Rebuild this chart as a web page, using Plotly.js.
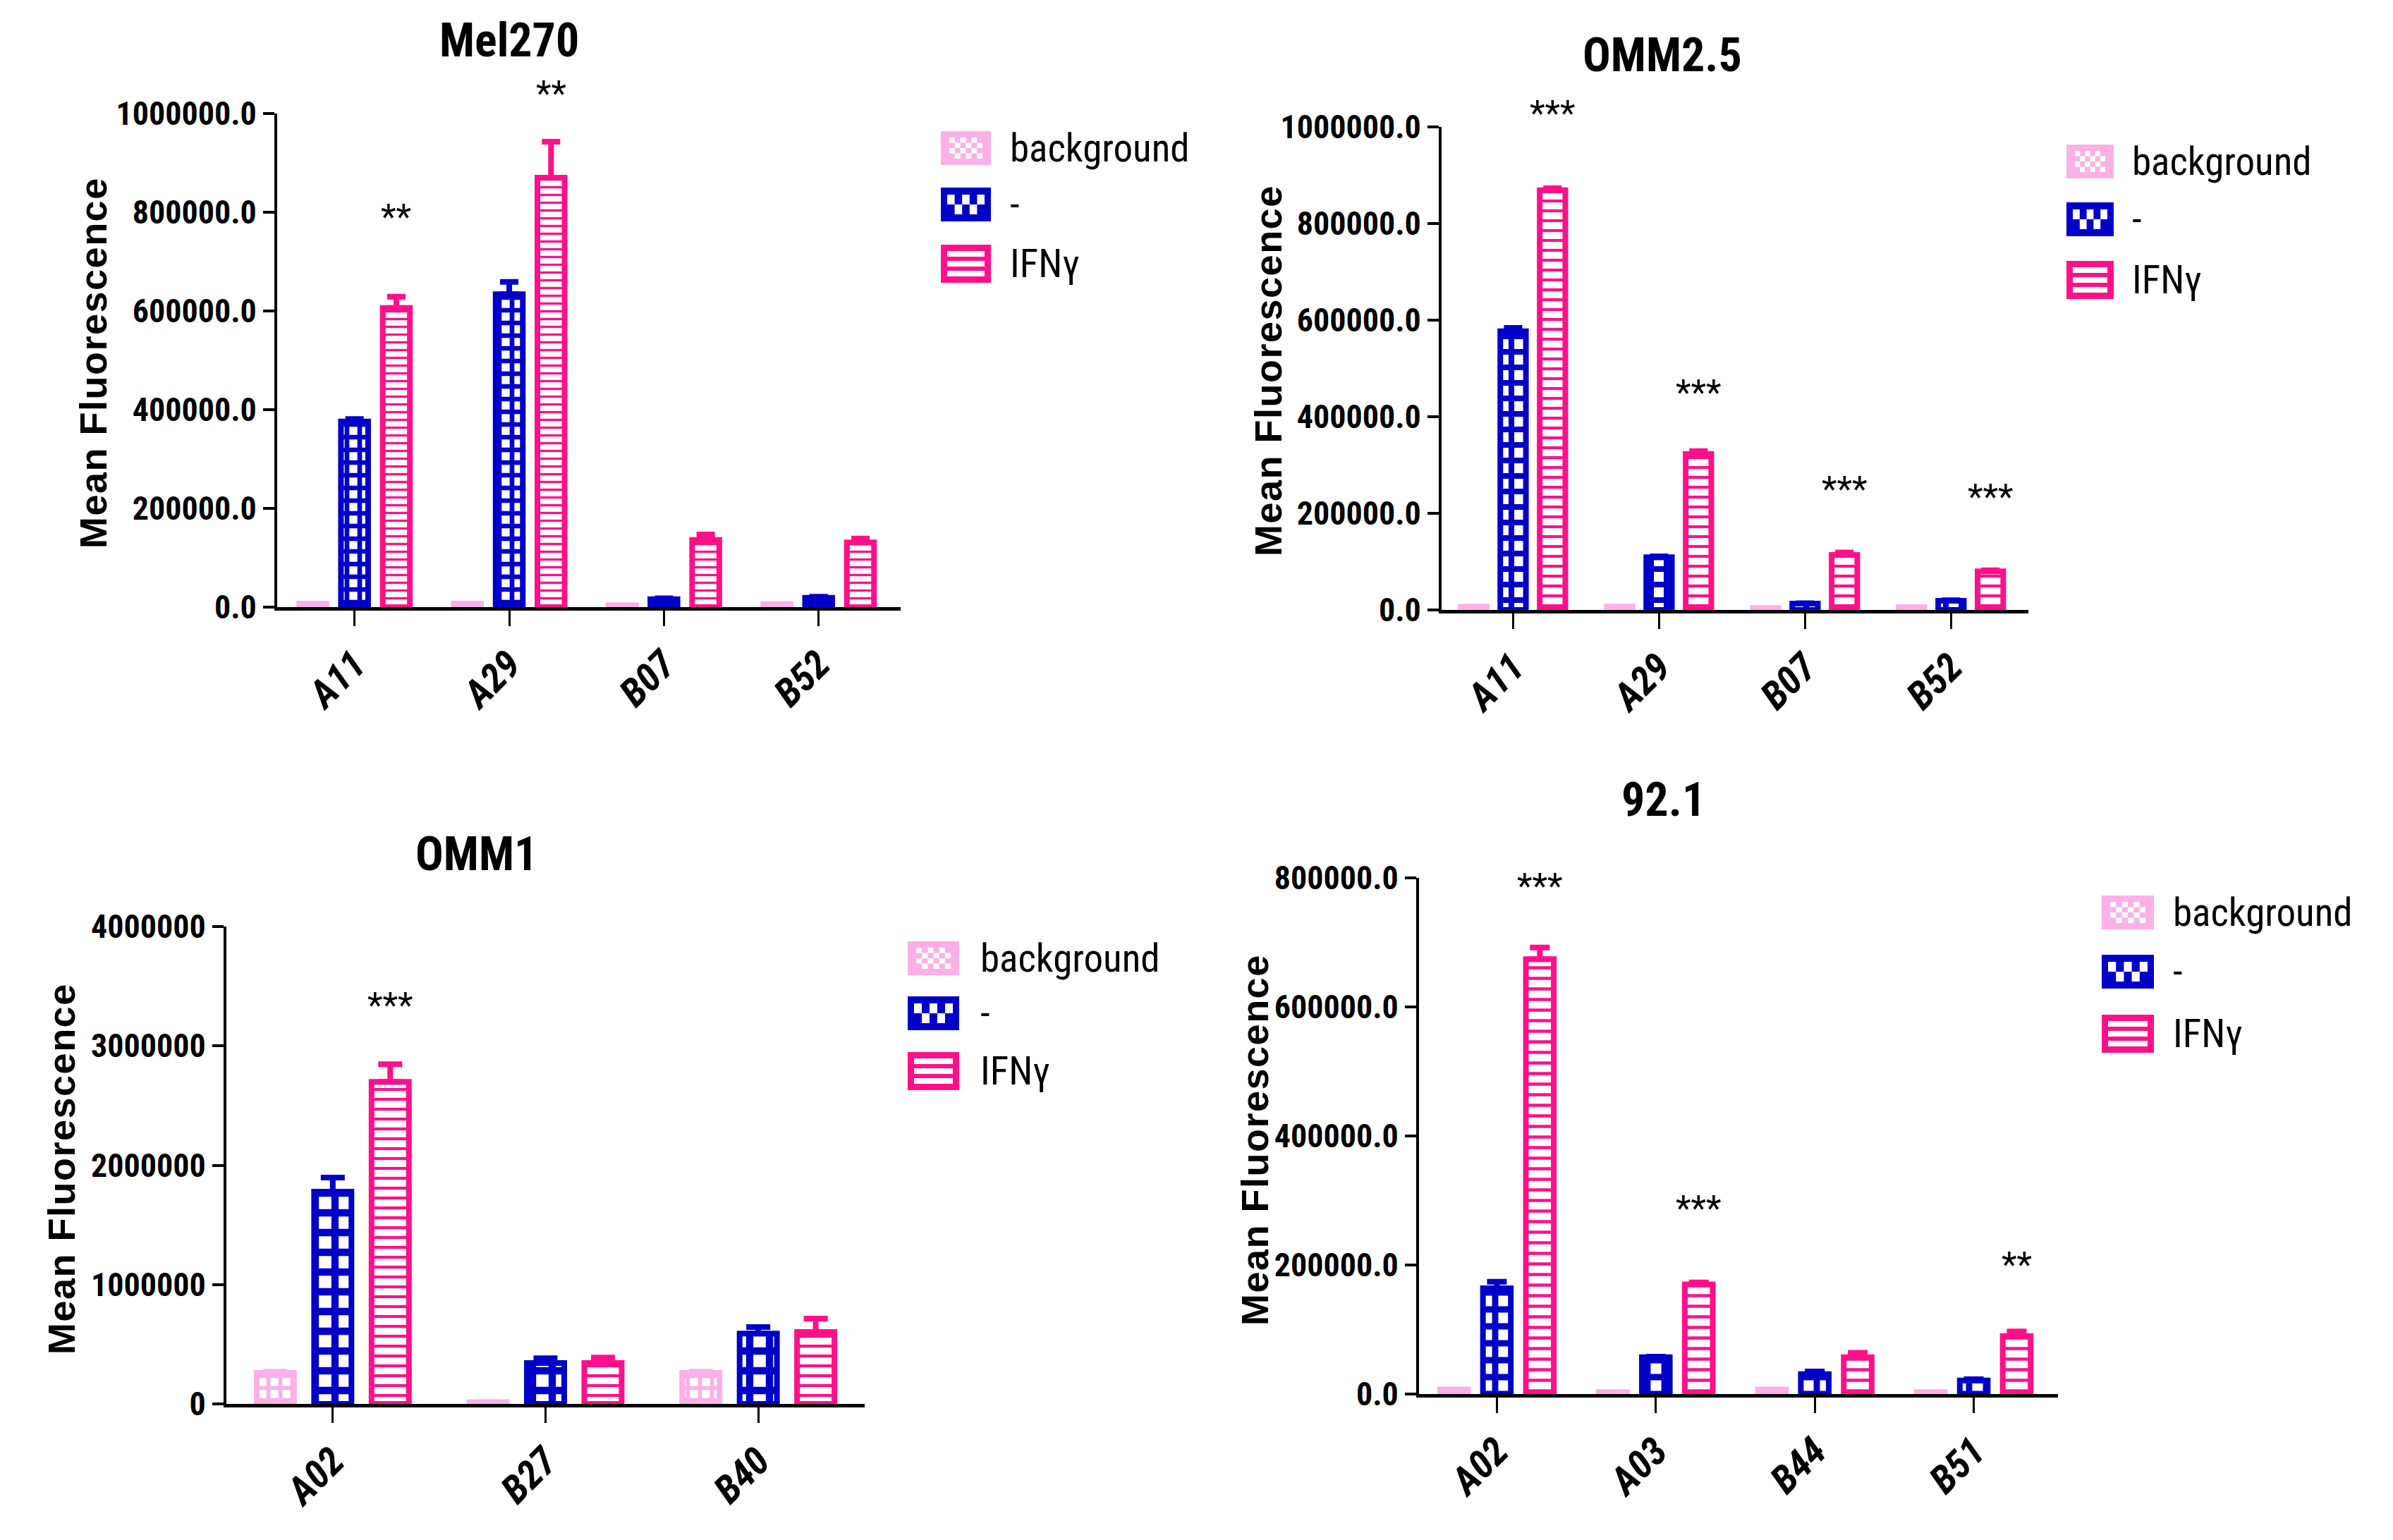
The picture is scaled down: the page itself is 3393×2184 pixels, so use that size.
<!DOCTYPE html>
<html><head><meta charset="utf-8">
<script src="https://cdn.plot.ly/plotly-3.0.1.min.js"></script>
<style>html,body{margin:0;padding:0;background:#fff}#chart{width:3393px;height:2184px}</style>
</head><body><div id="chart"></div>
<script>
// ---------------- data ----------------
const seriesNames = ['background', '-', 'IFNγ'];

const mel270Cats = ['A11', 'A29', 'B07', 'B52'];
const mel270Background = [7000, 7000, 4000, 6000];
const mel270Control = [376000, 634000, 16000, 19000];
const mel270ControlErr = [5000, 25000, 2000, 2000];
const mel270Ifn = [606000, 870000, 136000, 131000];
const mel270IfnErr = [23000, 73000, 11000, 8000];
const mel270Stars = ['**', '**', '', ''];
const mel270StarY = [790000, 1040000, 0, 0];

const omm25Cats = ['A11', 'A29', 'B07', 'B52'];
const omm25Background = [7000, 7000, 4000, 6000];
const omm25Control = [577000, 109000, 13000, 19000];
const omm25ControlErr = [7000, 2000, 1000, 1000];
const omm25Ifn = [869000, 323000, 114000, 80000];
const omm25IfnErr = [4000, 6000, 5000, 2000];
const omm25Stars = ['***', '***', '***', '***'];
const omm25StarY = [1028000, 450000, 250000, 234000];

const omm1Cats = ['A02', 'B27', 'B40'];
const omm1Background = [260000, 15000, 260000];
const omm1BackgroundErr = [10000, 0, 10000];
const omm1Control = [1778000, 343000, 590000];
const omm1ControlErr = [118000, 40000, 54000];
const omm1Ifn = [2699000, 343000, 602000];
const omm1IfnErr = [148000, 45000, 113000];
const omm1Stars = ['***', '', ''];
const omm1StarY = [3337000, 0, 0];

const c921Cats = ['A02', 'A03', 'B44', 'B51'];
const c921Background = [7000, 3000, 7000, 3000];
const c921Control = [164000, 57000, 31000, 21000];
const c921ControlErr = [10000, 1000, 4000, 2000];
const c921Ifn = [674000, 170000, 57000, 90000];
const c921IfnErr = [18000, 3000, 7000, 7000];
const c921Stars = ['***', '***', '', '**'];
const c921StarY = [787000, 287000, 0, 200000];

// ---------------- styling ----------------
const W = 3393, H = 2184;
const fx = p => p / W;
const fy = p => 1 - p / H;
const NARROW = '"Roboto Condensed", "Open Sans Condensed", "DejaVu Sans Condensed", sans-serif';
const ARIAL = '"Liberation Sans", Arial, sans-serif';
const BLUE = '#0000C8';
const PINK = '#FF1089';
const LIGHT = '#FBB1E7';

const panels = [
  {title: 'Mel270', cats: mel270Cats, bg: mel270Background, bgErr: null, ctrl: mel270Control, ctrlErr: mel270ControlErr,
   ifn: mel270Ifn, ifnErr: mel270IfnErr, stars: mel270Stars, starY: mel270StarY,
   xd: [393, 1277], yd: [161, 861], xr: [-0.5, 3.53], yr: [0, 1000000], dtick: 200000, fmt: '.1f',
   titlePos: [722, 57], ytPos: [132, 515], lgX: [1334, 1405], lgY: [210, 290, 374], lblX: 1430,
   stripe: 11, check: 18, cap: 13},
  {title: 'OMM2.5', cats: omm25Cats, bg: omm25Background, bgErr: null, ctrl: omm25Control, ctrlErr: omm25ControlErr,
   ifn: omm25Ifn, ifnErr: omm25IfnErr, stars: omm25Stars, starY: omm25StarY,
   xd: [2044, 2876], yd: [180, 865], xr: [-0.49, 3.53], yr: [0, 1000000], dtick: 200000, fmt: '.1f',
   titlePos: [2357, 79], ytPos: [1798, 526], lgX: [2930, 2997], lgY: [229, 311, 397], lblX: 3021,
   stripe: 14, check: 22, cap: 13},
  {title: 'OMM1', cats: omm1Cats, bg: omm1Background, bgErr: omm1BackgroundErr, ctrl: omm1Control, ctrlErr: omm1ControlErr,
   ifn: omm1Ifn, ifnErr: omm1IfnErr, stars: omm1Stars, starY: omm1StarY,
   xd: [321, 1226], yd: [1314, 1991], xr: [-0.5, 2.5], yr: [0, 4000000], dtick: 1000000, fmt: 'd',
   titlePos: [675, 1211], ytPos: [87, 1658], lgX: [1287, 1360], lgY: [1359, 1437, 1519], lblX: 1388,
   stripe: 14, check: 28, cap: 17},
  {title: '92.1', cats: c921Cats, bg: c921Background, bgErr: null, ctrl: c921Control, ctrlErr: c921ControlErr,
   ifn: c921Ifn, ifnErr: c921IfnErr, stars: c921Stars, starY: c921StarY,
   xd: [2012, 2918], yd: [1245, 1977], xr: [-0.49, 3.53], yr: [0, 800000], dtick: 200000, fmt: '.1f',
   titlePos: [2358, 1134], ytPos: [1779, 1617], lgX: [2980, 3054], lgY: [1294, 1378, 1466], lblX: 3079,
   stripe: 15, check: 24, cap: 14}
];

const traces = [];
const annotations = [];
const shapes = [];
const layout = {
  width: W, height: H, margin: {l: 0, r: 0, t: 0, b: 0},
  paper_bgcolor: '#fff', plot_bgcolor: 'rgba(0,0,0,0)',
  showlegend: false, barmode: 'group', bargap: 0.19, bargroupgap: 0.35,
  font: {family: NARROW, color: '#000'}
};

function errObj(arr, color, cap) {
  if (!arr) return {visible: false};
  return {type: 'data', symmetric: false, array: arr, arrayminus: arr.map(() => 0),
          color: color, thickness: 8, width: cap};
}

function rect(x0, y0, x1, y1, fill, lineColor, lw) {
  shapes.push({type: 'rect', xref: 'paper', yref: 'paper', x0: fx(x0), x1: fx(x1), y0: fy(y1), y1: fy(y0),
               fillcolor: fill, line: {color: lineColor || fill, width: lw || 0}, layer: 'above'});
}

panels.forEach((p, i) => {
  const n = i === 0 ? '' : String(i + 1);
  const xa = 'x' + n, ya = 'y' + n;
  layout['xaxis' + n] = {
    domain: [fx(p.xd[0]), fx(p.xd[1])], anchor: ya, type: 'category', range: p.xr,
    showline: true, linewidth: 5, linecolor: '#000', ticks: 'outside', ticklen: 22, tickwidth: 3, tickcolor: '#000',
    tickangle: -45, showgrid: false, zeroline: false,
    tickfont: {family: NARROW, size: 55, weight: 'bold', style: 'italic', color: '#000'}
  };
  layout['yaxis' + n] = {
    domain: [fy(p.yd[1]), fy(p.yd[0])], anchor: xa, range: p.yr, tick0: 0, dtick: p.dtick, tickformat: p.fmt,
    showline: true, linewidth: 4, linecolor: '#000', ticks: 'outside', ticklen: 16, tickwidth: 4, tickcolor: '#000',
    showgrid: false, zeroline: false,
    tickfont: {family: NARROW, size: 46, weight: 'bold', color: '#000'}
  };

  traces.push({
    type: 'bar', name: seriesNames[0], x: p.cats, y: p.bg, xaxis: xa, yaxis: ya,
    marker: {color: LIGHT, line: {color: LIGHT, width: 8},
             pattern: {shape: '+', fgcolor: LIGHT, bgcolor: '#fff', size: Math.round(p.check * 0.6), solidity: 0.55}},
    error_y: errObj(p.bgErr, LIGHT, p.cap)
  });
  traces.push({
    type: 'bar', name: seriesNames[1], x: p.cats, y: p.ctrl, xaxis: xa, yaxis: ya,
    marker: {color: BLUE, line: {color: BLUE, width: 8},
             pattern: {shape: '+', fgcolor: BLUE, bgcolor: '#fff', size: p.check, solidity: 0.6}},
    error_y: errObj(p.ctrlErr, BLUE, p.cap)
  });
  traces.push({
    type: 'bar', name: seriesNames[2], x: p.cats, y: p.ifn, xaxis: xa, yaxis: ya,
    marker: {color: PINK, line: {color: PINK, width: 8},
             pattern: {shape: '-', fgcolor: PINK, bgcolor: '#fff', size: p.stripe, solidity: 0.3}},
    error_y: errObj(p.ifnErr, PINK, p.cap)
  });

  // significance stars above the IFNγ bars (y mapped to paper so stars above the axis range still show)
  const yBot = fy(p.yd[1]), yTop = fy(p.yd[0]);
  p.stars.forEach((s, k) => {
    if (!s) return;
    annotations.push({xref: xa, yref: 'paper', x: k + 0.27, y: yBot + (p.starY[k] / p.yr[1]) * (yTop - yBot),
      text: s, showarrow: false, xanchor: 'center', yanchor: 'middle',
      font: {family: NARROW, size: 50, color: '#000'}});
  });

  // panel title
  annotations.push({xref: 'paper', yref: 'paper', x: fx(p.titlePos[0]), y: fy(p.titlePos[1]), text: p.title,
    showarrow: false, xanchor: 'center', yanchor: 'middle', font: {family: NARROW, size: 66, weight: 'bold', color: '#000'}});
  // y-axis title
  annotations.push({xref: 'paper', yref: 'paper', x: fx(p.ytPos[0]), y: fy(p.ytPos[1]), textangle: -90,
    text: '<span style="letter-spacing:1.5px">Mean Fluorescence</span>',
    showarrow: false, xanchor: 'center', yanchor: 'middle', font: {family: ARIAL, size: 54, weight: 'bold', color: '#000'}});

  // legend
  const [lx0, lx1] = p.lgX;
  const hh = 24;
  let yc = p.lgY[0];
  rect(lx0, yc - hh, lx1, yc + hh, LIGHT, LIGHT, 0);
  {
    const ix0 = lx0 + 12, ix1 = lx1 - 12, iy0 = yc - 15, iy1 = yc + 15;
    const cols = 6, rows = 4, cw = (ix1 - ix0) / cols, rh = (iy1 - iy0) / rows;
    for (let r = 0; r < rows; r++) for (let c = 0; c < cols; c++)
      if ((r + c) % 2 === 0) rect(ix0 + c * cw, iy0 + r * rh, ix0 + (c + 1) * cw, iy0 + (r + 1) * rh, '#fff');
  }
  yc = p.lgY[1];
  rect(lx0, yc - hh, lx1, yc + hh, BLUE, BLUE, 0);
  {
    const ix0 = lx0 + 9, ix1 = lx1 - 9, iy0 = yc - 14, iy1 = yc + 14;
    const cols = 5, rows = 2, cw = (ix1 - ix0) / cols, rh = (iy1 - iy0) / rows;
    for (let r = 0; r < rows; r++) for (let c = 0; c < cols; c++)
      if ((r + c) % 2 === 0) rect(ix0 + c * cw, iy0 + r * rh, ix0 + (c + 1) * cw, iy0 + (r + 1) * rh, '#fff');
  }
  yc = p.lgY[2];
  rect(lx0, yc - 27, lx1, yc + 27, PINK, PINK, 0);
  {
    const ix0 = lx0 + 9, ix1 = lx1 - 9, iy0 = yc - 18, iy1 = yc + 18;
    const sh = (iy1 - iy0 - 2 * 6) / 3;
    for (let r = 0; r < 3; r++) rect(ix0, iy0 + r * (sh + 6), ix1, iy0 + r * (sh + 6) + sh, '#fff');
  }
  seriesNames.forEach((nm, k) => {
    annotations.push({xref: 'paper', yref: 'paper', x: fx(p.lblX), y: fy(p.lgY[k]), text: nm, showarrow: false,
      xanchor: 'left', yanchor: 'middle', font: {family: NARROW, size: 55, color: '#000'}});
  });
});

layout.annotations = annotations;
layout.shapes = shapes;

Plotly.newPlot('chart', traces, layout, {staticPlot: true, displayModeBar: false});
</script></body></html>
